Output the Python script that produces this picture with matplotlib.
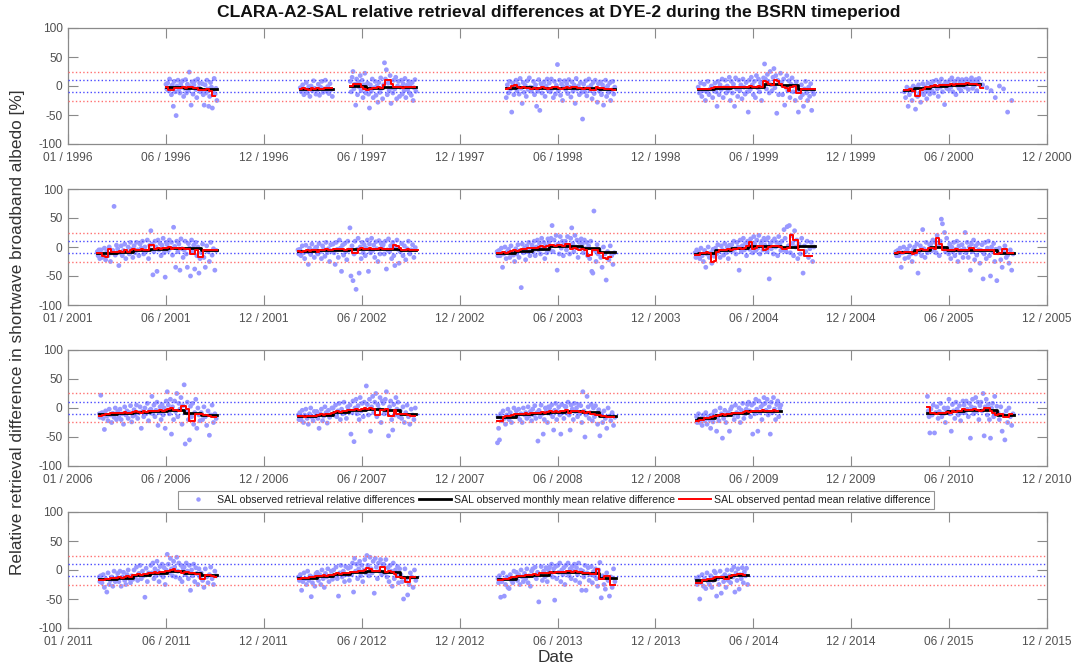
import numpy as np
import pandas as pd
import matplotlib
matplotlib.use("Agg")
import matplotlib.pyplot as plt
import matplotlib.dates as mdates
from matplotlib.lines import Line2D

plt.rcParams['font.family'] = ['Liberation Sans', 'DejaVu Sans']

# ---------------- data ----------------
panel_years = [1996, 2001, 2006, 2011]
ticklabels_1996 = ["01 / 1996", "06 / 1996", "12 / 1996", "06 / 1997", "12 / 1997", "06 / 1998",
                   "12 / 1998", "06 / 1999", "12 / 1999", "06 / 2000", "12 / 2000"]
ticklabels_2001 = ["01 / 2001", "06 / 2001", "12 / 2001", "06 / 2002", "12 / 2002", "06 / 2003",
                   "12 / 2003", "06 / 2004", "12 / 2004", "06 / 2005", "12 / 2005"]
ticklabels_2006 = ["01 / 2006", "06 / 2006", "12 / 2006", "06 / 2007", "12 / 2007", "06 / 2008",
                   "12 / 2008", "06 / 2009", "12 / 2009", "06 / 2010", "12 / 2010"]
ticklabels_2011 = ["01 / 2011", "06 / 2011", "12 / 2011", "06 / 2012", "12 / 2012", "06 / 2013",
                   "12 / 2013", "06 / 2014", "12 / 2014", "06 / 2015", "12 / 2015"]
yticks = [-100, -50, 0, 50, 100]
red_limits = [25, -25]
blue_limits = [10, -10]

# season 1996
start_1996 = "1996-06-28"
monthly_1996 = [-2, -2, -3, -6]
pentad_1996 = [-2, -7, -7, -4, -3, -3, -2, -4, -1, -1, -3, -3, -7, -7, -7, -6, -8, -18]
scatter_1996 = [[3, -5],
                [5, -8, 12, -3, -15, 2, -35, 8, -10, -51, 0, 10, -6, -12, 4, -2, 9, -18],
                [-4, 11, -12, 3, -8, 24, -1, -33, 7, -14, 2, 9, -6, -20, 12, -3, 5, -10],
                [-9, 4, -15, -33, 2, -12, 10, -5, -35, -18, 6, -2, -38, -8, 13, -14, -4, -25]]
# season 1997 (spring)
start_1997a = "1997-03-01"
monthly_1997a = [-5, -5]
pentad_1997a = [-5, -4, -6, -7, -4, -5, -3, -6, -5, -4, -3, -4]
scatter_1997a = [[-3, -10, 2, -15, -6, 6, -12, -1, -18, 0, -8, 9, -4, -14],
                 [-7, 3, -16, -2, 8, -11, -5, 10, -9, -1, -13, 4, -6, -18]]
# season 1997 (summer)
start_1997b = "1997-06-01"
monthly_1997b = [0, -3, -2, -2]
pentad_1997b = [0, 4, 4, 3, -1, -5, -7, -6, -3, -3, -2, -3, 2, 10, 10, 3, -1, -2, -2, -3, -2, -1, -2, -2]
scatter_1997b = [[8, -10, 15, 25, -5, 3, -33, 12, -15, 6, -2, 18, -8, 10, -20, 2, 22, -12],
                 [-6, 5, -14, -38, 2, -9, 12, -20, -3, 8, -16, 0, -28, 6, -11, 14, -4, -22],
                 [2, 40, 12, 28, -15, 5, -8, 18, -30, -3, -12, 10, -5, 15, -22, 0, 8, -18],
                 [-2, 10, -14, 4, -8, 13, -20, 1, -6, 8, -12, 3, -16, 6, -25, -3, 11, -9]]
# season 1998
start_1998 = "1998-03-14"
monthly_1998 = [-3, -2, -4, -4, -3, -4, -5]
pentad_1998 = [-5, -3, 0, 1, -1, -3, -2, -4, -3, -5, -4, -6, -3, -2, -4, -5, -3, -1, -2, -4,
               -5, -3, -2, -4, -1, -2, -4, -3, -5, -4, -3, -7, -7, -2, -3, -4, -6, -5, -6, -7]
scatter_1998 = [[-20, 2, -12, 8, -5, -45, 5, -15, 0],
                [10, -8, 3, -14, 13, -4, -30, 6, -11, 1, -18, 9, -6, 14, -2, -9],
                [-3, 8, -15, 2, -35, -9, 11, -42, 4, -12, -1, 7, -18, 0, 12, -7],
                [5, -10, 12, -4, -20, 8, -14, 1, 37, -8, 10, -16, 3, -25, -2, 9],
                [-6, 4, -13, 11, -2, -19, 7, -9, 2, -30, 13, -5, 0, -15, 6, -11],
                [-57, 3, -10, 9, -17, -3, 12, -8, 1, -22, 6, -13, 10, -4, -28, 4],
                [-9, 7, -15, 2, -33, -4, 10, -18, 0, -11, 5, -25, -7, 8, -14, -2]]
# season 1999
start_1999 = "1999-03-01"
monthly_1999 = [-6, -3, -2, -1, 3, 1, -6]
pentad_1999 = [-5, -6, -6, -5, -6, -4, -1, -1, -2, -2, -1, -2, -1, -2, -1, -1, -2, -1,
               -1, 0, -1, -2, 0, -1, 8, 7, 3, 2, 10, 9, 3, -1, -3, -8, -2, 0,
               -12, -12, -6, -5, -6, -6, -6]
scatter_1999 = [[-2, -12, 5, -18, -8, 3, -25, -10, 8, -15, -5, 0, -20, -7],
                [5, -10, -35, 8, -15, 2, -6, 12, -20, -3, 10, -12, 0, -8, 15, -25],
                [8, -12, 3, -35, 14, -5, -18, 10, -8, 2, -22, 12, -2, -14, 6, -10],
                [-45, 10, -6, 15, 2, -15, 8, -20, 18, -3, 12, -10, 5, -25, 0, 14],
                [38, 12, -5, 20, 8, -12, 25, 2, -8, 15, 30, -3, 18, -47, 10, -15, 5, 22],
                [6, -15, 12, -33, -2, 18, -8, 9, -20, 3, 14, -10, 0, -25, 7, -5],
                [-45, -8, -20, 2, -15, -35, -5, 8, -12, -25, -2, -18, 4, -42, -10, -14]]
# season 2000
start_2000 = "2000-03-13"
monthly_2000 = [-7, -4, 0, 2, 4]
pentad_2000 = [-7, -7, -6, -8, -18, -17, -7, -6, -1, -1, 0, 1, 0, 1, 2, 1, 2, 3, 2, 3,
               4, 4, 4, 5, 4, 4, 3, 2, -3]
scatter_2000 = [[-10, -20, -2, -35, -15, -5, -25, 0],
                [-8, -40, -3, -18, 2, -12, -28, -6, 4, -15, -1, -10, -22, 5, -8, -14],
                [3, -8, 8, -12, 0, 10, -5, -18, 6, -2, 12, -10, 2, -32, 7, -4],
                [5, -6, 10, -2, 14, -10, 4, 8, -15, 1, 12, -4, 6, -8, 11, 0],
                [8, -2, 12, 3, -6, 10, 5, 14, -4, 8, 1, 11, -8, 6, 13, 2],
                [2, -3, -8, -20],
                [0, -5, -45, -25]]
# season 2001
start_2001 = "2001-02-23"
monthly_2001 = [-10, -10, -8, -5, -3, -2, -2, -6]
pentad_2001 = [-10, -10, -16, -17, -3, -8, -8, -9, -7, -8, -6, -8, -5, -4, -6, -5, -4, -6, -5, 3,
               3, -3, -2, -3, -1, -2, 0, -3, -2, -1, -3, -2, -4, -3, -12, -12, -5, -17, -17, -6,
               -5, -5, -5, -6]
scatter_2001 = [[-8, -15, -5, -20],
                [-5, -18, -12, -2, -22, -8, -15, 0, -25, -10, -6, 70, -14, 3],
                [-3, -32, -10, 2, -15, -6, 5, -20, -8, 0, -12, 8, -4, -18],
                [2, -10, 8, -5, -15, 5, -2, 10, -12, 0, -7, 12, -20, 3],
                [28, 5, -48, -8, 10, 0, -42, 12, -5, 6, -15, 3, 15, -10, -52, 8],
                [4, -6, 12, -2, 8, -14, 34, 1, -35, 10, -8, 5, -40, 14, -3, -18],
                [-5, 10, -12, -35, 6, -2, -50, 12, -9, 3, -38, 8, -15, 0, -45, -20],
                [-10, 5, -18, -35, 2, -8, -25, 8, -14, -3, -40, -6]]
# season 2002
start_2002 = "2002-02-26"
monthly_2002 = [-7, -7, -6, -5, -4, -3, -3, -5]
pentad_2002 = [-7, -8, -7, -6, -7, -5, -6, -8, -6, -5, -4, -5, -6, -4, -3, -4, -3, -5, -4, -3,
               -11, -10, -3, -2, -3, -4, -2, -3, -4, -3, -2, -4, -3, -4, -3, 3, 2, -2, -5, -5,
               -4, -6, -5, -5]
scatter_2002 = [[-5, -12],
                [-4, -15, 2, -10, -20, 3, -8, -30, -2, -13, 5, -6, -18, -1],
                [0, -12, 6, -8, -20, 2, -4, -16, 8, -10, -3, -25, 4, -7],
                [5, -10, -30, 8, -4, -18, 12, -2, -42, 3, -14, 6, -8, -22, 10, -5],
                [33, -50, 2, -58, -12, 10, -73, -4, 15, -45, 0, -20, 8, -10, 4, -15],
                [-2, 12, -42, 5, -10, 15, -6, 3, -18, 9, -3, -25, 11, -12, 6, 0],
                [4, -12, 10, -38, -5, 14, -8, 2, -20, 8, -15, -32, 0, 12, -4, -28],
                [-8, 6, -15, 2, -22, -3, 10, -12, -5, 4, -18, -1]]
# season 2003
start_2003 = "2003-02-26"
monthly_2003 = [-10, -10, -7, -3, 1, 2, -2, -8]
pentad_2003 = [-10, -11, -9, -10, -8, -7, -6, -7, -5, -4, -3, -2, -1, -2, -1, 0, 1, 0, 2, 3,
               3, 2, 4, 3, 2, 5, 5, -3, -2, -4, -5, -3, -5, -15, -14, -5, -6, -10, -10, -19,
               -20, -18]
scatter_2003 = [[-8, -15],
                [-6, -15, -2, -35, -12, 0, -20, -8, -4, -18, 2, -10, -14, -25],
                [-3, -12, 4, -18, -6, -70, 5, -10, -2, -22, 2, -8, 8, -15, -5],
                [3, -8, 10, -15, 0, 12, -5, 6, -12, 15, -3, 8, -20, 2, -10, 14],
                [8, -5, 15, 37, -8, 12, 2, 20, -40, 5, -12, 18, -2, 10, -15, 6],
                [10, -5, 18, 3, -12, 15, 33, 6, -8, 20, 0, 12, -18, 8, -3, 14],
                [5, -10, 12, -3, 8, -15, 2, -20, 10, -42, -45, 62, -6, -25, 4, -12],
                [-5, -18, -35, 0, -12, -57, -8, -22, 2, -15, -30, -10]]
# season 2004
start_2004 = "2004-02-24"
monthly_2004 = [-12, -11, -6, -2, 1, 1, 0, 2]
pentad_2004 = [-14, -13, -10, -11, -9, -10, -25, -24, -8, -6, -5, -6, -4, -5, -3, -4, -2, -3, -1, 2,
               8, -3, -1, 1, 2, -5, -4, 0, 1, 2, 1, 0, -3, -3, -1, 20, 12, 12, -5, -5,
               -15, -15, -15]
scatter_2004 = [[-10, -18, -5, -14],
                [-8, -20, -2, -15, -25, -6, -35, -12, 0, -18, -10, -28, -4, -16],
                [-2, -12, 4, -8, -18, 2, -5, -14, 6, -10, 0, -20, 3, -7],
                [4, -6, 10, -3, -12, 8, 0, -40, 12, -8, 2, 15, -5, 6, -15, 10],
                [8, -4, 14, 2, -10, 18, 5, -6, 12, -2, 20, -12, 6, 10, -5, 15],
                [3, 12, -8, 16, -55, 6, -3, 10, -12, 14, 0, 8, -15, 18, 4, -6],
                [10, -5, 30, 15, -8, 35, 2, 37, -10, 20, 6, -15, 28, 0, 12, -20],
                [5, -12, 15, -45, 2, -8, 10, -18, -3, 8, -25, 0]]
# season 2005
start_2005 = "2005-02-26"
monthly_2005 = [-10, -9, -5, 0, -5, -5, -5, -11]
pentad_2005 = [-10, -9, -10, -8, -9, -8, -12, -11, -5, -4, -5, -6, -2, -1, -3, 15, 5, -5,
               -5, -6, -5, -5, -4, -5, -5, -6, -5, -2, -2, -5, -5, -6, -5, -6, -5, -6,
               -12, -12, -10, -3, -3, -10, -10]
scatter_2005 = [[-8, -15],
                [-6, -15, -2, -35, -10, 0, -20, -8, -4, -18, 2, -12, -25, -5],
                [0, -12, 5, -45, -8, 2, -15, 30, -3, -18, 8, -10, -5, 4],
                [5, -6, 12, -4, 8, -10, 20, 2, -15, 10, 48, 40, -2, 25, -8, 15],
                [-2, -12, 5, -20, 0, -8, 8, -15, -4, 10, -25, 2, -10, -6, 4, -18],
                [-3, 25, -10, 8, -18, 0, -40, 5, -8, 12, -22, 2, -14, 6, -5, -28],
                [-6, 4, -55, -12, 8, -20, -2, 10, -15, -50, 0, -8, 6, -25, -4, -58],
                [-10, -2, -22, -35, -8, 2, -18, -14, -28, -5, -40, -12]]
# season 2006
start_2006 = "2006-02-27"
monthly_2006 = [-11, -11, -9, -7, -6, -3, -8, -12]
pentad_2006 = [-13, -12, -11, -10, -9, -9, -8, -8, -9, -7, -8, -8, -7, -6, -7, -8, -6, -7,
               -6, -5, -6, -5, -4, -5, -3, -2, 0, -3, -4, -5, 4, 3, -2, -22, -22, -10,
               -10, -11, -12, -12, -13, -15, -16]
scatter_2006 = [[-10, -16],
                [22, -8, -18, -37, -5, -14, -22, -2, -12, -25, -9, -16, 0, -20],
                [-6, -15, -2, -20, -10, -28, 2, -12, -5, -18, -8, 4, -24, -14],
                [-3, -12, 5, -18, -8, 2, -35, -6, -15, 0, -10, 8, -22, -4],
                [-2, 20, -10, 5, -15, -4, 10, -30, -8, 2, -20, 6, -12, 0, -35, 12],
                [28, 5, -10, 15, -45, 2, -20, 12, -6, 25, -15, 8, -2, 18, -28, 4],
                [40, -62, -5, 10, -20, -55, 3, -15, 8, -28, -8, 15, -35, 0, -12, -22],
                [-8, -20, 2, -15, -30, -5, -47, -12, 5, -25, -10, -18]]
# season 2007
start_2007 = "2007-02-27"
monthly_2007 = [-14, -14, -12, -7, -3, -1, -3, -10]
pentad_2007 = [-14, -14, -15, -13, -14, -13, -13, -12, -11, -12, -10, -10, -8, -7, -6, -7, -6, -5,
               -4, -3, -3, -2, -3, -2, 0, -1, 0, -2, -12, -12, -3, -3, -2, -13, -13, -3,
               -10, -10, -11, -10, -12, -13, -14]
scatter_2007 = [[-12, -20],
                [-8, -20, -4, -25, -12, -2, -18, -28, -10, 0, -16, -22, -6, -14],
                [-6, -18, -35, -10, -2, -22, -14, 2, -8, -26, -4, -16, -12, 0],
                [0, -12, 5, -15, -5, 8, -20, -2, -10, 10, -8, -18, 2, -4],
                [5, -45, -8, 12, -58, 0, 15, -10, 4, -20, 18, -5, 8, -15, 10, -2],
                [38, 6, -12, 15, -40, 2, 20, -8, 10, 25, -15, 5, -2, 18, -25, 12],
                [8, -10, 15, 28, -5, -48, 2, 12, -20, -38, 6, -12, 18, -2, 10, -15],
                [-5, -18, 2, -25, -8, 5, -15, -28, -2, -12, -20, 0]]
# season 2008
start_2008 = "2008-02-27"
monthly_2008 = [-16, -15, -11, -9, -7, -5, -7, -13]
pentad_2008 = [-22, -22, -15, -14, -13, -12, -11, -10, -11, -10, -9, -10, -9, -8, -9, -8, -7, -8,
               -7, -6, -7, -6, -7, -6, -5, -4, -8, -5, -6, -5, -7, -6, -8, -7, -10, -10,
               -12, -12, -13, -14, -15, -15, -15]
scatter_2008 = [[-60, -15, -35],
                [-55, -10, -22, -5, -18, -28, -12, -2, -20, -8, -25, -15, 0, -14],
                [-5, -15, -2, -20, -10, -25, 0, -12, -8, -18, 2, -14, -6, -22],
                [-2, -12, 4, -18, -8, -57, -4, -15, 5, -10, -45, -20, 0, -6, -25, 2],
                [0, -10, 5, -15, -38, -4, 8, -20, -6, 2, -12, -45, 6, -8, -18, 3],
                [2, -8, 10, -12, -38, 5, -2, -20, 8, -6, 0, -15, 6, -10, 4, -25],
                [28, -5, -50, -12, 20, 2, -18, -8, 6, -22, 0, -15, 4, -10, -28, -3],
                [-48, -10, -25, -5, -18, -35, 0, -14, -22, -8, -30, -16]]
# season 2009
start_2009 = "2009-02-26"
monthly_2009 = [-20, -18, -12, -9, -6, -5]
pentad_2009 = [-22, -21, -20, -18, -17, -16, -14, -13, -12, -11, -12, -10, -10, -9, -8, -9, -8, -7,
               -6, -7, -6, -5, -5, -6, -3, -5, -6, -5, -4, -5]
scatter_2009 = [[-15, -25, -20],
                [-10, -25, -18, -30, -12, -22, -8, -28, -15, -20, -35, -12, -24, -6],
                [-5, -40, -15, -22, 0, -10, -52, -18, -4, -25, -12, -8, -40, -2],
                [2, -12, -20, 5, -8, -15, 0, -25, -4, 8, -18, -10, -2, 6],
                [10, -5, -15, 5, -45, 8, -10, 15, -2, -40, 12, -8, 2, -20, 6, 18],
                [8, -4, 15, -12, 2, -45, 10, -8, 18, -2, -20, 6, 12, -15, 0, 5]]
# season 2010
start_2010 = "2010-04-25"
monthly_2010 = [-9, -9, -6, -3, -4, -12]
pentad_2010 = [2, -8, -9, -10, -8, -9, -8, -7, -8, -5, -7, -6, -5, -2, -3, -4, -3, -2, -3,
               -5, -4, 0, 0, -5, -8, -12, -10, -11, -15, -15, -10]
scatter_2010 = [[20, -5, -15, -43],
                [-2, -12, 5, -43, -8, 2, -18, -6, 8, -15, -10, 0, -25, -4],
                [0, 15, -10, -40, 6, -5, -18, 10, -2, -12, 4, -22, -8, 12],
                [5, -8, 12, -2, -15, 8, -52, 2, 15, -10, 0, 18, -6, 10, -20, 4],
                [10, -5, 25, -48, 2, 15, -12, 6, -20, -52, 0, 8, -15, 20, -8, 3],
                [-8, -20, 2, -40, -12, -55, -5, -25, 0, -15, -30, -10]]
# season 2011
start_2011 = "2011-02-27"
monthly_2011 = [-15, -16, -13, -8, -5, -1, -5, -8]
pentad_2011 = [-18, -17, -15, -16, -13, -14, -13, -12, -13, -12, -11, -12, -9, -8, -7, -8, -7, -7,
               -5, -6, -4, -5, -4, -3, -1, -2, 0, 2, -1, -2, -5, -4, -3, -5, -6, -7,
               -7, -15, -15, -8, -8, -10, -12]
scatter_2011 = [[-12, -20],
                [-10, -22, -8, -30, -15, -38, -5, -25, -18, -12, -28, -2, -20, -14],
                [-6, -20, -2, -28, -12, -4, -18, -25, -8, 0, -15, -22, -10, -16],
                [0, -12, 5, -18, -6, 8, -15, -2, -10, -47, 3, -20, -5, -8],
                [8, -5, 12, -15, 2, -10, 15, -2, -20, 6, -8, 10, -12, 4, -25, 0],
                [27, 10, -5, 20, 2, -10, 15, 5, -12, 22, -2, 12, -15, 8, -20, 3],
                [5, -8, 12, -2, -15, 8, -35, 0, -10, 10, -20, 4, -6, -25, 2, -12],
                [-5, -18, -30, 2, -12, -22, -8, 5, -15, -25, -2, -10]]
# season 2012
start_2012 = "2012-02-27"
monthly_2012 = [-14, -13, -10, -7, -4, -1, -3, -12]
pentad_2012 = [-15, -14, -13, -14, -12, -12, -11, -10, -11, -9, -10, -9, -8, -7, -6, -7, -6, -5,
               -5, -4, -3, -4, -2, -1, 0, 3, 2, -2, -1, -1, 6, 6, -3, -2, -4, -7,
               -12, -12, -14, -20, -20, -12, -12]
scatter_2012 = [[-12, -18],
                [-8, -35, -20, -5, -15, -25, -2, -18, -10, -46, -22, -12, -28, -6],
                [-4, -18, -8, -25, 0, -15, -30, -6, -12, 2, -20, -10, -2, -16],
                [0, -10, 5, -15, -45, -5, 8, -12, -2, -20, 6, -8, 3, -18],
                [5, -8, 12, -38, 20, -2, 10, -15, 2, 15, -10, 8, -20, 0, 18, -5],
                [25, 8, -10, 22, 2, -5, 15, -40, 20, 5, -15, 12, -2, 18, -8, 10],
                [10, -5, 18, -12, 4, -20, 8, -2, -28, 12, -15, 0, -8, 6, -22, 2],
                [-8, -20, -50, 2, -15, -43, -25, -5, -12, -30, 0, -18]]
# season 2013
start_2013 = "2013-02-27"
monthly_2013 = [-16, -16, -11, -8, -4, -3, -5, -13]
pentad_2013 = [-18, -17, -15, -16, -13, -12, -12, -11, -10, -11, -9, -9, -8, -7, -8, -6, -6, -5,
               -5, -4, -5, -3, -4, -3, -3, -2, -2, -3, -2, -3, -4, -5, -5, -6, -7, -7,
               2, -15, -15, -10, -11, -25, -25]
scatter_2013 = [[-15, -22],
                [-10, -47, -20, -5, -45, -25, -12, -30, -32, -8, -18, -22, -2, -15],
                [-4, -18, -8, -25, 0, -12, -20, -6, -15, 2, -22, -10, -28, -2],
                [2, -10, 5, -15, -4, -55, -8, 6, -18, -2, -12, 4, -20, 0],
                [5, -8, 10, -12, 2, -52, 6, -15, 8, -4, 12, -20, 0, -8, 4, -25],
                [8, -5, 12, -10, 2, -15, 6, -2, 10, -18, 4, -8, 12, -22, 0, -35],
                [-2, -12, 8, -35, -5, 4, -18, -8, 6, -22, -3, -10, 2, -15, -28, 0],
                [13, -48, -10, -25, -33, -5, -18, -45, -12, -30, 2, -20]]
# season 2014
start_2014 = "2014-02-26"
monthly_2014 = [-18, -17, -12, -8]
pentad_2014 = [-22, -22, -18, -18, -15, -15, -13, -12, -12, -12, -15, -15, -10, -9, -8, -7, -7, -8]
scatter_2014 = [[-15, -25, -20],
                [-12, -50, -22, -8, -28, -15, -32, -5, -20, -25, -10, -30, -18, -2],
                [-5, -45, -15, -25, -2, -40, -12, -20, -8, -30, 0, -18, -10, -22],
                [0, -12, 5, -38, -5, -18, 2, -33, -8, -15, 4, -22, -3, -10, 3, -25]]

seasons = [
    (start_1996, monthly_1996, pentad_1996, scatter_1996),
    (start_1997a, monthly_1997a, pentad_1997a, scatter_1997a),
    (start_1997b, monthly_1997b, pentad_1997b, scatter_1997b),
    (start_1998, monthly_1998, pentad_1998, scatter_1998),
    (start_1999, monthly_1999, pentad_1999, scatter_1999),
    (start_2000, monthly_2000, pentad_2000, scatter_2000),
    (start_2001, monthly_2001, pentad_2001, scatter_2001),
    (start_2002, monthly_2002, pentad_2002, scatter_2002),
    (start_2003, monthly_2003, pentad_2003, scatter_2003),
    (start_2004, monthly_2004, pentad_2004, scatter_2004),
    (start_2005, monthly_2005, pentad_2005, scatter_2005),
    (start_2006, monthly_2006, pentad_2006, scatter_2006),
    (start_2007, monthly_2007, pentad_2007, scatter_2007),
    (start_2008, monthly_2008, pentad_2008, scatter_2008),
    (start_2009, monthly_2009, pentad_2009, scatter_2009),
    (start_2010, monthly_2010, pentad_2010, scatter_2010),
    (start_2011, monthly_2011, pentad_2011, scatter_2011),
    (start_2012, monthly_2012, pentad_2012, scatter_2012),
    (start_2013, monthly_2013, pentad_2013, scatter_2013),
    (start_2014, monthly_2014, pentad_2014, scatter_2014),
]
panel_ticklabels = [ticklabels_1996, ticklabels_2001, ticklabels_2006, ticklabels_2011]

title = "CLARA-A2-SAL relative retrieval differences at DYE-2 during the BSRN timeperiod"
ylabel = "Relative retrieval difference in shortwave broadband albedo [%]"
xlabel = "Date"
legend_labels = ["SAL observed retrieval relative differences",
                 "SAL observed monthly mean relative difference",
                 "SAL observed pentad mean relative difference"]

# ---------------- style ----------------
SCAT_C = '#9999ff'
AX_C = '#8a8a8a'
TXT_C = '#505050'


def month_edges(start, n):
    s = pd.Timestamp(start)
    first = s + pd.offsets.MonthBegin(1)
    ed = [s] + [first + pd.DateOffset(months=i) for i in range(n)]
    return mdates.date2num([e.to_pydatetime() for e in ed])


W, H = 1075, 667
fig = plt.figure(figsize=(W / 100, H / 100), dpi=100)
tops = [28, 189, 350, 512]
ph = 116
left, right = 68, 1047
axes = []
for i, top in enumerate(tops):
    ax = fig.add_axes([left / W, 1 - (top + ph) / H, (right - left) / W, ph / H])
    axes.append(ax)
    y0 = panel_years[i]
    x0 = mdates.date2num(pd.Timestamp(f"{y0}-01-01").to_pydatetime())
    x1 = mdates.date2num(pd.Timestamp(f"{y0 + 4}-12-01").to_pydatetime())
    ax.set_xlim(x0, x1)
    ax.set_ylim(-100, 100)
    ax.set_xticks(np.linspace(x0, x1, 11))
    ax.set_xticklabels(panel_ticklabels[i])
    ax.set_yticks(yticks)
    ax.set_yticklabels([str(v) for v in yticks])
    ax.tick_params(direction='in', length=7, width=0.8, color=AX_C, labelcolor=TXT_C,
                   labelsize=8.6, top=True, right=True)
    ax.tick_params(axis='x', pad=6)
    ax.tick_params(axis='y', pad=4)
    for sp in ax.spines.values():
        sp.set_color(AX_C)
        sp.set_linewidth(0.9)
    for v in red_limits:
        ax.axhline(v, color='#ff7070', ls=':', lw=1.0, zorder=3)
    for v in blue_limits:
        ax.axhline(v, color='#4a4aff', ls=':', lw=1.0, zorder=3)

for start, monthly, pentad, scat in seasons:
    yr = pd.Timestamp(start).year
    ax = axes[(yr - 1996) // 5]
    # scatter
    ed = month_edges(start, len(scat))
    xs, ys = [], []
    for k, row in enumerate(scat):
        n = len(row)
        for j, v in enumerate(row):
            xs.append(ed[k] + (j + 0.5) / n * (ed[k + 1] - ed[k]))
            ys.append(v)
    ax.scatter(xs, ys, s=12, color=SCAT_C, edgecolors='none', zorder=2)
    # monthly mean
    em = month_edges(start, len(monthly))
    ax.plot(em, list(monthly) + [monthly[-1]], drawstyle='steps-post', color='black', lw=2.0, zorder=4)
    # pentad mean
    s0 = mdates.date2num(pd.Timestamp(start).to_pydatetime())
    xp = s0 + 5 * np.arange(len(pentad) + 1)
    ax.plot(xp, list(pentad) + [pentad[-1]], drawstyle='steps-post', color='red', lw=1.4, zorder=5)

fig.text(559 / W, 1 - 13 / H, title, ha='center', va='center', fontsize=12.6, fontweight='bold', color='#111111')
fig.text(18 / W, 1 - 332 / H, ylabel, ha='center', va='center', rotation=90, fontsize=12.4, color='#333333')
fig.text(556 / W, 1 - 657 / H, xlabel, ha='center', va='center', fontsize=12.4, color='#333333')

handles = [Line2D([], [], marker='o', markersize=2.2, ls='none', color=SCAT_C),
           Line2D([], [], color='black', lw=2.0),
           Line2D([], [], color='red', lw=1.4)]
leg = fig.legend(handles, legend_labels, loc='center', bbox_to_anchor=(556 / W, 1 - 500 / H),
                 ncol=3, fontsize=7.6, frameon=True, fancybox=False, handlelength=3.0,
                 handletextpad=0.3, columnspacing=0.4, borderpad=0.35, borderaxespad=0)
leg.get_frame().set_edgecolor('#7a7a7a')
leg.get_frame().set_linewidth(0.8)
for t in leg.get_texts():
    t.set_color('#222222')

fig.savefig("out.png", dpi=100)
